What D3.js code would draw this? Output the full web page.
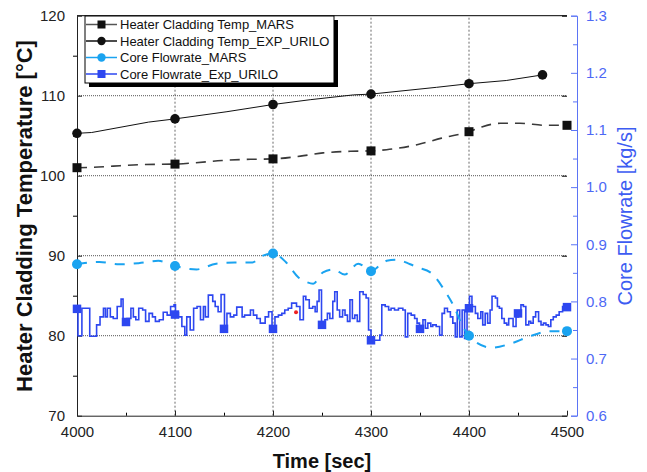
<!DOCTYPE html>
<html>
<head>
<meta charset="utf-8">
<script src="https://cdn.jsdelivr.net/npm/d3@7"></script>
<style>
  body { margin: 0; background: #fff; }
  svg { display: block; }
</style>
</head>
<body>
<svg id="chart" width="647" height="472"></svg>
<script>
// ---- data ----
var timeTicks = [4000, 4100, 4200, 4300, 4400, 4500];
var timeMinor = [4050, 4150, 4250, 4350, 4450];
var tempTicks = [70, 80, 90, 100, 110, 120];
var tempMinor = [75, 85, 95, 105, 115];
var flowTicks = [0.6, 0.7, 0.8, 0.9, 1.0, 1.1, 1.2, 1.3];
var flowMinor = [0.65, 0.75, 0.85, 0.95, 1.05, 1.15, 1.25];

// Heater Cladding Temp_MARS (dashed line + squares every 100 s)
var tempMarsTime = [4000, 4017, 4037, 4068, 4100, 4119, 4148, 4177, 4200, 4228, 4251, 4279, 4300, 4316, 4348, 4372, 4400, 4413, 4432, 4452, 4478, 4500];
var tempMarsVal = [101.0, 101.05, 101.2, 101.4, 101.45, 101.6, 101.9, 102.05, 102.1, 102.45, 102.85, 103.05, 103.1, 103.25, 103.9, 104.7, 105.5, 106.1, 106.55, 106.55, 106.3, 106.3];
var tempMarsMarkT = [4000, 4100, 4200, 4300, 4400, 4500];
var tempMarsMarkV = [101.0, 101.45, 102.1, 103.1, 105.5, 106.3];

// Heater Cladding Temp_EXP_URILO (solid line + circles)
var tempExpTime = [4000, 4015, 4073, 4100, 4153, 4200, 4238, 4282, 4300, 4367, 4400, 4438, 4475];
var tempExpVal = [105.3, 105.4, 106.7, 107.1, 108.0, 108.9, 109.5, 110.1, 110.2, 111.05, 111.5, 111.9, 112.6];
var tempExpMarkT = [4000, 4100, 4200, 4300, 4400, 4475];
var tempExpMarkV = [105.3, 107.1, 108.9, 110.2, 111.5, 112.6];

// Core Flowrate_MARS (dashed line + circles)
var flowMarsTime = [4000, 4023, 4043, 4063, 4083, 4100, 4122, 4142, 4161, 4179, 4187, 4200, 4213, 4226, 4234, 4241, 4251, 4262, 4273, 4287, 4294, 4300, 4309, 4316, 4326, 4340, 4347, 4362, 4374, 4385, 4394, 4400, 4406, 4423, 4444, 4462, 4483, 4500];
var flowMarsVal = [0.865, 0.869, 0.865, 0.867, 0.871, 0.862, 0.856, 0.866, 0.868, 0.868, 0.878, 0.884, 0.869, 0.842, 0.834, 0.831, 0.851, 0.856, 0.847, 0.866, 0.860, 0.853, 0.863, 0.871, 0.873, 0.865, 0.860, 0.849, 0.822, 0.790, 0.755, 0.740, 0.730, 0.719, 0.727, 0.739, 0.748, 0.748];
var flowMarsMarkT = [4000, 4100, 4200, 4300, 4400, 4500];
var flowMarsMarkV = [0.865, 0.862, 0.884, 0.853, 0.740, 0.748];

// Core Flowrate_Exp_URILO (step signal + squares every 50 s)
var flowExpTime = [4000, 4001, 4005, 4013, 4020, 4023.5, 4027, 4029, 4031, 4034, 4037, 4041, 4045, 4047, 4051, 4055, 4057.5, 4060, 4063, 4067, 4070, 4073.5, 4077, 4080, 4084, 4088, 4092, 4095.5, 4099,
  4100.5, 4103.5, 4107, 4110, 4112, 4115.5, 4119, 4122.5, 4126, 4129, 4131, 4134, 4138.5, 4141, 4144, 4147, 4150.5, 4153, 4156.5, 4160, 4163, 4168.5, 4171, 4177, 4180, 4183.5, 4187, 4192, 4195.5, 4199,
  4202, 4205.5, 4209, 4212, 4215.5, 4219, 4224, 4227.5, 4231, 4233.5, 4237, 4240.5, 4243, 4245, 4247, 4249.5, 4253, 4255.5, 4258, 4261, 4263, 4265.5, 4268, 4271, 4273.5, 4276, 4278.5, 4281, 4283.5, 4286, 4288.5, 4292, 4295, 4297.5,
  4300, 4309, 4311, 4314.5, 4318, 4320.5, 4324, 4328, 4332.5, 4335, 4337.5, 4341, 4344.5, 4347, 4349.5, 4353, 4355.5, 4358, 4361, 4363, 4366.5, 4370, 4372.5, 4375, 4378, 4381, 4383.5, 4386, 4388, 4390.5, 4393, 4395.5, 4398,
  4400.5, 4403, 4406.5, 4409, 4412, 4414, 4416.5, 4419, 4421.5, 4423.5, 4427, 4429, 4431, 4433.5, 4436, 4438.5, 4440.5, 4445, 4448, 4450.5, 4453, 4455.5, 4458, 4461, 4463, 4465.5, 4468, 4471, 4473.5, 4476, 4478.5, 4481, 4483.5, 4486, 4489, 4492, 4495.5, 4499, 4500];
var flowExpVal = [0.788, 0.740, 0.788, 0.739, 0.759, 0.773, 0.788, 0.773, 0.788, 0.773, 0.770, 0.791, 0.804, 0.761, 0.770, 0.788, 0.773, 0.768, 0.788, 0.785, 0.765, 0.779, 0.773, 0.765, 0.768, 0.781, 0.776, 0.791, 0.794,
  0.780, 0.773, 0.756, 0.741, 0.773, 0.750, 0.788, 0.791, 0.768, 0.791, 0.773, 0.811, 0.800, 0.791, 0.782, 0.812, 0.752, 0.779, 0.773, 0.776, 0.790, 0.773, 0.776, 0.785, 0.776, 0.770, 0.762, 0.773, 0.782, 0.750,
  0.773, 0.776, 0.779, 0.785, 0.788, 0.797, 0.791, 0.768, 0.809, 0.803, 0.788, 0.791, 0.782, 0.800, 0.820, 0.759, 0.768, 0.779, 0.770, 0.800, 0.817, 0.785, 0.773, 0.785, 0.776, 0.765, 0.803, 0.770, 0.776, 0.765, 0.817, 0.812, 0.806, 0.750,
  0.732, 0.741, 0.794, 0.791, 0.785, 0.788, 0.785, 0.788, 0.785, 0.738, 0.779, 0.776, 0.770, 0.762, 0.756, 0.768, 0.753, 0.762, 0.756, 0.759, 0.756, 0.741, 0.779, 0.788, 0.782, 0.773, 0.762, 0.738, 0.785, 0.738, 0.785, 0.735, 0.791,
  0.809, 0.791, 0.779, 0.770, 0.782, 0.759, 0.779, 0.762, 0.785, 0.809, 0.806, 0.791, 0.788, 0.770, 0.762, 0.759, 0.770, 0.756, 0.773, 0.782, 0.794, 0.791, 0.759, 0.765, 0.762, 0.773, 0.782, 0.765, 0.759, 0.762, 0.759, 0.756, 0.768, 0.773, 0.776, 0.782, 0.791, 0.794, 0.794];
var flowExpMarkT = [4000, 4050, 4100, 4150, 4200, 4250, 4300, 4350, 4400, 4450, 4500];
var flowExpMarkV = [0.787, 0.764, 0.777, 0.752, 0.752, 0.759, 0.732, 0.752, 0.788, 0.779, 0.790];

// stray red point seen on the plot
var redDotT = [4223.5];
var redDotV = [0.781];

var legendNames = ["Heater Cladding Temp_MARS", "Heater Cladding Temp_EXP_URILO", "Core Flowrate_MARS", "Core Flowrate_Exp_URILO"];

// ---- drawing ----
var svg = d3.select("#chart");
var font = "'Liberation Sans', Arial, Helvetica, sans-serif";
var blueLine = "#2d47f0";
var lightBlue = "#1aa3f0";
var axisBlue = "#5b74f5";

var x = d3.scaleLinear().domain([4000, 4500]).range([77, 567]);
var yTemp = d3.scaleLinear().domain([70, 120]).range([415.7, 15.7]);
var yFlow = d3.scaleLinear().domain([0.6, 1.3]).range([415.7, 15.7]);

// gridlines
var grid = svg.append("g");
grid.selectAll("line.h")
  .data([80, 90, 100, 110])
  .enter()
  .append("line")
  .attr("x1", x(4000)).attr("x2", x(4500))
  .attr("y1", d => yTemp(d)).attr("y2", d => yTemp(d))
  .attr("stroke", "#555")
  .attr("stroke-dasharray", "1,1");
grid.selectAll("line.v")
  .data([4100, 4200, 4300, 4400])
  .enter()
  .append("line")
  .attr("x1", d => x(d)).attr("x2", d => x(d))
  .attr("y1", yTemp(70)).attr("y2", yTemp(120))
  .attr("stroke", "#444")
  .attr("stroke-width", 0.8)
  .attr("stroke-dasharray", "2,2");

// frame top + right corner ticks
svg.append("line")
  .attr("x1", x(4000)).attr("x2", x(4500))
  .attr("y1", yTemp(120)).attr("y2", yTemp(120))
  .attr("stroke", "#000");
svg.append("g")
  .attr("transform", `translate(${x(4500)},0)`)
  .call(d3.axisRight(yTemp).tickValues(tempTicks).tickSize(-5).tickFormat(""))
  .call(g => g.select(".domain").remove());

// bottom axis
var xAxis = svg.append("g")
  .attr("transform", `translate(0,${yTemp(70)})`)
  .call(d3.axisBottom(x).tickValues(timeTicks).tickSizeInner(-5).tickSizeOuter(0).tickPadding(11).tickFormat(d3.format("d")));
svg.append("g")
  .attr("transform", `translate(0,${yTemp(70)})`)
  .call(d3.axisBottom(x).tickValues(timeMinor).tickSize(-3).tickFormat(""))
  .call(g => g.select(".domain").remove());

// left axis
var yAxis = svg.append("g")
  .attr("transform", `translate(${x(4000)},0)`)
  .call(d3.axisLeft(yTemp).tickValues(tempTicks).tickSizeInner(-5).tickSizeOuter(0).tickPadding(12));
svg.append("g")
  .attr("transform", `translate(${x(4000)},0)`)
  .call(d3.axisLeft(yTemp).tickValues(tempMinor).tickSize(4).tickFormat(""))
  .call(g => g.select(".domain").remove());

[xAxis, yAxis].forEach(function(a) {
  a.selectAll("text").attr("font-family", font).attr("font-size", 15).attr("fill", "#222");
  a.selectAll("line, path").attr("stroke", "#222");
});

// right (flow) axis
var rx = 577;
var rAxis = svg.append("g")
  .attr("transform", `translate(${rx},0)`)
  .call(d3.axisRight(yFlow).tickValues(flowTicks).tickSizeInner(-6).tickSizeOuter(-6).tickPadding(9).tickFormat(d3.format(".1f")));
svg.append("g")
  .attr("transform", `translate(${rx},0)`)
  .call(d3.axisRight(yFlow).tickValues(flowMinor).tickSize(-4).tickFormat(""))
  .call(g => g.select(".domain").remove())
  .selectAll("line").attr("stroke", axisBlue);
rAxis.selectAll("line, path").attr("stroke", axisBlue);
rAxis.selectAll("text").attr("font-family", font).attr("font-size", 15).attr("fill", "#4d68f5");

// axis titles
svg.append("text")
  .text("Time [sec]")
  .attr("x", (x(4000) + x(4500)) / 2)
  .attr("y", 468)
  .attr("text-anchor", "middle")
  .attr("font-family", font)
  .attr("font-weight", "bold")
  .attr("font-size", 20)
  .attr("fill", "#111");
svg.append("text")
  .text("Heater Cladding Temperature [°C]")
  .attr("transform", "translate(32,216) rotate(-90)")
  .attr("text-anchor", "middle")
  .attr("font-family", font)
  .attr("font-weight", "bold")
  .attr("font-size", 22)
  .attr("fill", "#111");
svg.append("text")
  .text("Core Flowrate [kg/s]")
  .attr("transform", "translate(632,216) rotate(-90)")
  .attr("text-anchor", "middle")
  .attr("font-family", font)
  .attr("font-size", 20)
  .attr("fill", "#3d5cf2");

// lines
var tempLine = d3.line().x(d => x(d[0])).y(d => yTemp(d[1]));
var flowLine = d3.line().x(d => x(d[0])).y(d => yFlow(d[1]));

svg.append("path")
  .attr("d", flowLine.curve(d3.curveStepAfter)(d3.zip(flowExpTime, flowExpVal)))
  .attr("fill", "none")
  .attr("stroke", blueLine)
  .attr("stroke-width", 1.6);

svg.append("path")
  .attr("d", flowLine.curve(d3.curveMonotoneX)(d3.zip(flowMarsTime, flowMarsVal)))
  .attr("fill", "none")
  .attr("stroke", lightBlue)
  .attr("stroke-width", 2)
  .attr("stroke-dasharray", "10,9");

svg.append("path")
  .attr("d", tempLine.curve(d3.curveMonotoneX)(d3.zip(tempMarsTime, tempMarsVal)))
  .attr("fill", "none")
  .attr("stroke", "#3a3a3a")
  .attr("stroke-width", 1.6)
  .attr("stroke-dasharray", "10,7");

svg.append("path")
  .attr("d", tempLine.curve(d3.curveLinear)(d3.zip(tempExpTime, tempExpVal)))
  .attr("fill", "none")
  .attr("stroke", "#111")
  .attr("stroke-width", 1);

// markers
function squares(ts, vs, y, size, color) {
  svg.append("g")
    .selectAll("rect")
    .data(d3.zip(ts, vs))
    .enter()
    .append("rect")
    .attr("x", d => x(d[0]) - size / 2)
    .attr("y", d => y(d[1]) - size / 2)
    .attr("width", size)
    .attr("height", size)
    .attr("fill", color);
}
function circles(ts, vs, y, r, color) {
  svg.append("g")
    .selectAll("circle")
    .data(d3.zip(ts, vs))
    .enter()
    .append("circle")
    .attr("cx", d => x(d[0]))
    .attr("cy", d => y(d[1]))
    .attr("r", r)
    .attr("fill", color);
}
squares(flowExpMarkT, flowExpMarkV, yFlow, 8.5, blueLine);
circles(flowMarsMarkT, flowMarsMarkV, yFlow, 5, lightBlue);
squares(tempMarsMarkT, tempMarsMarkV, yTemp, 9, "#111");
circles(tempExpMarkT, tempExpMarkV, yTemp, 4.8, "#111");
circles(redDotT, redDotV, yFlow, 2, "#ee2222");

// legend
var lg = svg.append("g");
lg.append("rect").attr("x", 89).attr("y", 20).attr("width", 249).attr("height", 67).attr("fill", "#000");
lg.append("rect").attr("x", 85).attr("y", 16).attr("width", 249).attr("height", 67)
  .attr("fill", "#fff").attr("stroke", "#000").attr("stroke-width", 1);

var legendStyle = [
  { color: "#555", mark: "square", mcolor: "#111" },
  { color: "#111", mark: "circle", mcolor: "#111" },
  { color: lightBlue, mark: "circle", mcolor: lightBlue },
  { color: blueLine, mark: "square", mcolor: blueLine }
];
var rows = lg.selectAll("g.row")
  .data(legendNames)
  .enter()
  .append("g")
  .attr("transform", (d, i) => `translate(0,${24.5 + i * 16.5})`);
rows.append("line")
  .attr("x1", 86).attr("x2", 117)
  .attr("stroke", (d, i) => legendStyle[i].color)
  .attr("stroke-width", 1.5);
rows.each(function(d, i) {
  var s = legendStyle[i];
  if (s.mark == "square")
    d3.select(this).append("rect").attr("x", 97.5).attr("y", -4).attr("width", 8).attr("height", 8).attr("fill", s.mcolor);
  else
    d3.select(this).append("circle").attr("cx", 101.5).attr("cy", 0).attr("r", 4.2).attr("fill", s.mcolor);
});
rows.append("text")
  .text(d => d)
  .attr("x", 120)
  .attr("dy", "0.35em")
  .attr("font-family", font)
  .attr("font-size", 13)
  .attr("fill", "#111");
</script>
</body>
</html>
